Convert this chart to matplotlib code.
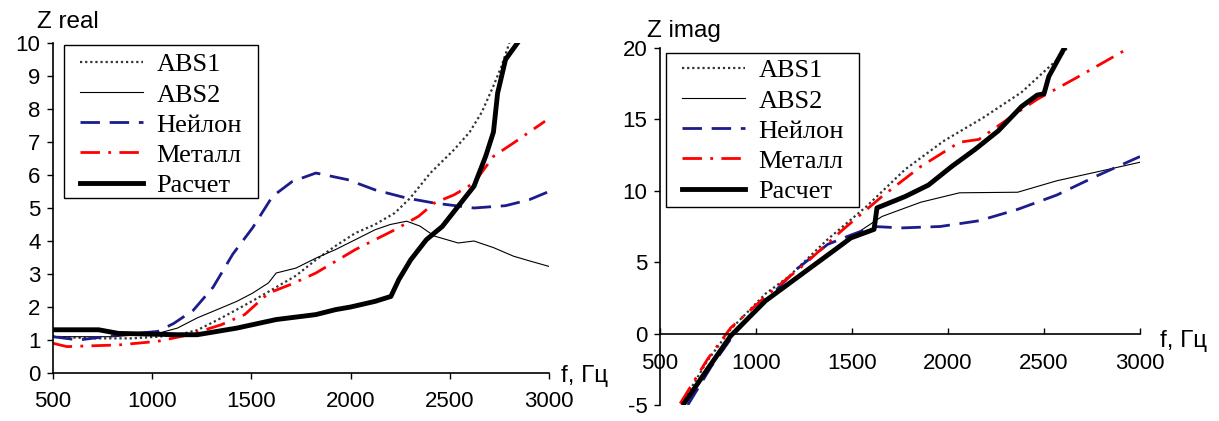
import numpy as np
import matplotlib.pyplot as plt
from matplotlib.patches import Rectangle

# --- Z real ---
f_abs1_r = [500, 700, 900, 1028, 1127, 1227, 1327, 1426, 1525, 1625, 1725, 1825, 1924, 2024, 2123, 2223, 2300, 2402, 2522, 2600, 2661, 2720, 2761, 2800]
z_abs1_r = [1.1, 1.05, 1.05, 1.1, 1.15, 1.3, 1.6, 1.92, 2.25, 2.6, 2.95, 3.43, 3.85, 4.24, 4.5, 4.85, 5.3, 6.06, 6.77, 7.3, 7.9, 8.7, 9.3, 10.0]

f_abs2_r = [500, 800, 1028, 1127, 1227, 1327, 1426, 1506, 1586, 1625, 1725, 1825, 1924, 2024, 2123, 2200, 2283, 2350, 2422, 2542, 2622, 2720, 2821, 2900, 3000]
z_abs2_r = [1.1, 1.1, 1.2, 1.36, 1.67, 1.92, 2.17, 2.42, 2.73, 3.03, 3.18, 3.48, 3.74, 4.04, 4.34, 4.5, 4.6, 4.45, 4.15, 3.94, 4.0, 3.8, 3.54, 3.4, 3.23]

f_nyl_r = [500, 630, 830, 1028, 1108, 1207, 1307, 1406, 1506, 1606, 1705, 1825, 1984, 2123, 2283, 2422, 2622, 2781, 2900, 3000]
z_nyl_r = [1.1, 1.0, 1.15, 1.26, 1.5, 1.9, 2.6, 3.6, 4.4, 5.35, 5.8, 6.06, 5.86, 5.55, 5.3, 5.15, 5.0, 5.07, 5.25, 5.5]

f_met_r = [500, 570, 830, 1028, 1187, 1347, 1466, 1586, 1705, 1825, 2024, 2223, 2343, 2422, 2522, 2622, 2721, 2821, 2980]
z_met_r = [0.9, 0.8, 0.85, 0.96, 1.16, 1.46, 1.77, 2.42, 2.7, 3.03, 3.74, 4.34, 4.75, 5.15, 5.4, 5.76, 6.57, 6.97, 7.63]

f_calc_r = [500, 730, 830, 1127, 1227, 1426, 1625, 1825, 1924, 2000, 2123, 2203, 2243, 2303, 2382, 2462, 2542, 2622, 2681, 2720, 2741, 2781, 2841]
z_calc_r = [1.31, 1.31, 1.2, 1.16, 1.16, 1.36, 1.62, 1.77, 1.92, 2.0, 2.17, 2.32, 2.83, 3.43, 4.04, 4.44, 5.05, 5.66, 6.57, 7.3, 8.48, 9.5, 10.0]

# --- Z imag ---
f_abs1_i = [600, 747, 868, 1050, 1171, 1373, 1575, 1777, 1979, 2181, 2383, 2586, 2620]
z_abs1_i = [-5.2, -1.9, 0.3, 2.8, 4.0, 6.6, 8.9, 11.5, 13.5, 15.1, 16.9, 19.4, 20.0]

f_abs2_i = [625, 747, 888, 1050, 1252, 1454, 1656, 1858, 2060, 2363, 2566, 2768, 3000]
z_abs2_i = [-4.8, -2.3, 0.07, 2.2, 4.3, 6.4, 8.2, 9.2, 9.86, 9.9, 10.7, 11.3, 12.0]

f_nyl_i = [645, 767, 888, 1050, 1211, 1373, 1494, 1615, 1757, 1959, 2161, 2363, 2566, 2768, 3000]
z_nyl_i = [-5.0, -2.3, 0.0, 2.3, 4.5, 6.25, 6.9, 7.5, 7.4, 7.5, 7.9, 8.7, 9.7, 11.0, 12.4]

f_met_i = [605, 747, 868, 1050, 1252, 1454, 1656, 1858, 2060, 2161, 2363, 2464, 2667, 2929]
z_met_i = [-4.9, -1.8, 0.4, 2.6, 4.85, 7.3, 9.6, 11.7, 13.4, 13.6, 15.5, 16.4, 17.9, 19.9]

f_calc_i = [625, 747, 868, 1050, 1252, 1414, 1494, 1615, 1630, 1777, 1898, 2019, 2141, 2262, 2383, 2464, 2500, 2525, 2606]
z_calc_i = [-4.9, -2.5, -0.16, 2.3, 4.3, 5.9, 6.7, 7.3, 8.8, 9.6, 10.4, 11.7, 12.9, 14.2, 15.9, 16.7, 16.8, 18.0, 20.0]

labels = ["ABS1", "ABS2", "Нейлон", "Металл", "Расчет"]

styles = [
    dict(color="#333333", lw=1.6, ls=(0, (1, 1.3))),
    dict(color="black", lw=0.8, ls="-"),
    dict(color="#1c1c8a", lw=2.0, ls=(0, (7, 3.5))),
    dict(color="red", lw=2.0, ls=(0, (7, 3, 1, 3))),
    dict(color="black", lw=3.5, ls="-"),
]

plt.rcParams["font.family"] = ["Liberation Sans", "DejaVu Sans"]
plt.rcParams["axes.unicode_minus"] = False
W, H = 1219, 421
fig = plt.figure(figsize=(W / 100, H / 100), dpi=100)
ax1 = fig.add_axes([53 / W, 1 - 373 / H, 496 / W, 330 / H])
ax2 = fig.add_axes([660 / W, 1 - 405 / H, 480 / W, 357 / H])

real = [(f_abs1_r, z_abs1_r), (f_abs2_r, z_abs2_r), (f_nyl_r, z_nyl_r), (f_met_r, z_met_r), (f_calc_r, z_calc_r)]
imag = [(f_abs1_i, z_abs1_i), (f_abs2_i, z_abs2_i), (f_nyl_i, z_nyl_i), (f_met_i, z_met_i), (f_calc_i, z_calc_i)]

for ax, data in [(ax1, real), (ax2, imag)]:
    for (f, z), lab, st in zip(data, labels, styles):
        ax.plot(f, z, label=lab, **st)
    for s in ["top", "right"]:
        ax.spines[s].set_visible(False)
    ax.spines["left"].set_linewidth(1.2)
    ax.spines["bottom"].set_linewidth(1.2)
    ax.set_xlim(500, 3000)
    ax.set_xticks([500, 1000, 1500, 2000, 2500, 3000])
    ax.tick_params(direction="out", length=4, width=1, labelsize=16, pad=5)
    ax.tick_params(axis="x", pad=9)

ax1.set_ylim(0, 10)
ax1.set_yticks(range(0, 11))
ax2.set_ylim(-5, 20)
ax2.set_yticks([-5, 0, 5, 10, 15, 20])
ax2.spines["bottom"].set_position(("data", 0))
ax2.tick_params(axis="x", direction="in", pad=14)

fig.text(37 / W, 1 - 22 / H, "Z real", fontsize=17.5, va="center")
fig.text(647 / W, 1 - 31 / H, "Z imag", fontsize=17.5, va="center")
fig.text(561 / W, 1 - 376 / H, "f, Гц", fontsize=17.5, va="center")
fig.text(1160 / W, 1 - 341 / H, "f, Гц", fontsize=17.5, va="center")

# legend frames and entries (frame box, first handle x, first row top)
for ax, box, hx, top in [(ax1, (64, 45, 258, 198), 80, 53), (ax2, (666, 53, 859, 207), 682, 59)]:
    x0, y0, x1, y1 = box
    ax.add_patch(Rectangle((x0 / W, 1 - y1 / H), (x1 - x0) / W, (y1 - y0) / H,
                           transform=fig.transFigure, clip_on=False, facecolor="white",
                           edgecolor="black", lw=1.0, zorder=5))
    leg = ax.legend(loc="upper left", bbox_to_anchor=(hx / W, 1 - top / H),
                    bbox_transform=fig.transFigure, frameon=False,
                    prop={"family": "Liberation Serif", "size": 19},
                    handlelength=2.4, labelspacing=0.25, borderpad=0, borderaxespad=0,
                    handletextpad=0.5)
    leg.set_zorder(6)

fig.savefig("out.png", dpi=100)
